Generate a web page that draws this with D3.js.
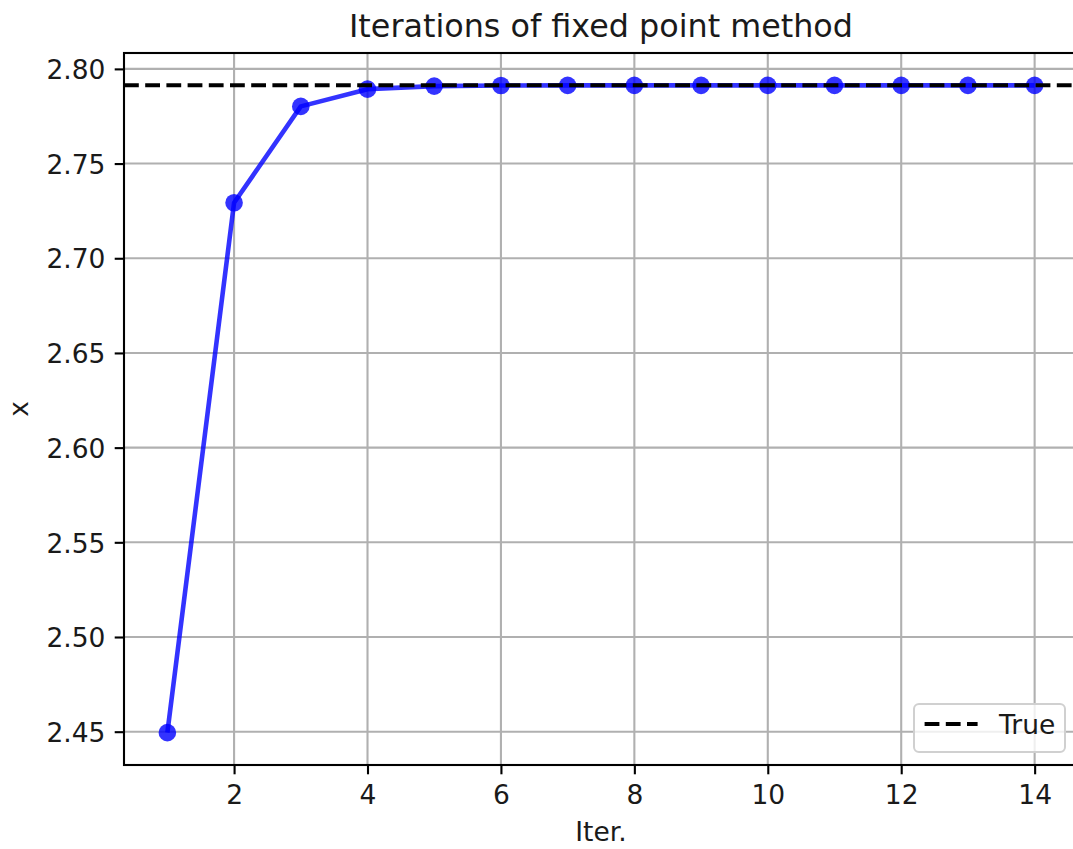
<!DOCTYPE html>
<html>
<head>
<meta charset="utf-8">
<script src="https://cdn.jsdelivr.net/npm/d3@7"></script>
<style>
  body { margin: 0; background: #fff; }
  svg { display: block; font-family: "DejaVu Sans", sans-serif; }
</style>
</head>
<body>
<div id="chart"></div>
<script>
// values
var iterations = [1, 2, 3, 4, 5, 6, 7, 8, 9, 10, 11, 12, 13, 14]
var xValues = [2.4495, 2.7293, 2.7802, 2.7893, 2.7909, 2.7912, 2.7913, 2.7913, 2.7913, 2.7913, 2.7913, 2.7913, 2.7913, 2.7913]
var trueValue = 2.7913
var xTicks = [2, 4, 6, 8, 10, 12, 14]
var yTicks = [2.45, 2.50, 2.55, 2.60, 2.65, 2.70, 2.75, 2.80]
var titleText = "Iterations of fixed point method"
var xLabel = "Iter."
var yLabel = "x"
var legendLabel = "True"

var svgSize = { width: 1073, height: 849 }
var margin = { top: 53, left: 124 }
var chartSize = { width: 954, height: 712 }
var fontSize = 26.5

var svg = d3.select("#chart").append("svg")
    .attr("width", svgSize.width)
    .attr("height", svgSize.height)

var frame = svg.append("g")
    .attr("transform", `translate(${margin.left}, ${margin.top})`)

// matplotlib style 5% padding on both axes
var xPad = (d3.max(iterations) - d3.min(iterations)) * 0.05
var yPad = (d3.max(xValues) - d3.min(xValues)) * 0.05

var xScale = d3.scaleLinear()
    .domain([d3.min(iterations) - xPad, d3.max(iterations) + xPad])
    .range([0, chartSize.width])
var yScale = d3.scaleLinear()
    .domain([d3.min(xValues) - yPad, d3.max(xValues) + yPad])
    .range([chartSize.height, 0])

// grid
var grid = frame.append("g")
grid.selectAll("line.gx").data(xTicks).enter().append("line")
    .attr("x1", d => xScale(d)).attr("x2", d => xScale(d))
    .attr("y1", 0).attr("y2", chartSize.height)
    .attr("stroke", "#b0b0b0").attr("stroke-width", 2.1)
grid.selectAll("line.gy").data(yTicks).enter().append("line")
    .attr("y1", d => yScale(d)).attr("y2", d => yScale(d))
    .attr("x1", 0).attr("x2", chartSize.width)
    .attr("stroke", "#b0b0b0").attr("stroke-width", 2.1)

// axes
var bottomAxis = d3.axisBottom(xScale).tickValues(xTicks).tickSize(9.3).tickPadding(9.3)
    .tickFormat(d3.format("d"))
var leftAxis = d3.axisLeft(yScale).tickValues(yTicks).tickSize(9.3).tickPadding(9.3)
    .tickFormat(d3.format(".2f"))

var gx = frame.append("g").attr("transform", `translate(0, ${chartSize.height})`).call(bottomAxis)
var gy = frame.append("g").call(leftAxis)
;[gx, gy].forEach(g => {
    g.select(".domain").remove()
    g.selectAll(".tick line").attr("stroke", "#000").attr("stroke-width", 2.1)
    g.selectAll(".tick text").attr("fill", "#1a1a1a").attr("font-size", fontSize)
        .attr("font-family", "DejaVu Sans")
})
gx.selectAll(".tick text").attr("dy", null).attr("y", 39)
gy.selectAll(".tick text").attr("dy", null).attr("y", 9.7)

// data line and markers
var line = d3.line()
    .x((d, i) => xScale(iterations[i]))
    .y(d => yScale(d))

var series = frame.append("g")
series.append("path")
    .datum(xValues)
    .attr("d", line)
    .attr("fill", "none")
    .attr("stroke", "blue")
    .attr("stroke-opacity", 0.8)
    .attr("stroke-width", 4.6)
    .attr("stroke-linejoin", "round")
series.selectAll("circle").data(xValues).enter().append("circle")
    .attr("cx", (d, i) => xScale(iterations[i]))
    .attr("cy", d => yScale(d))
    .attr("r", 8.8)
    .attr("fill", "blue")
    .attr("fill-opacity", 0.8)

// true value dashed line
frame.append("line")
    .attr("x1", 0).attr("x2", chartSize.width)
    .attr("y1", yScale(trueValue)).attr("y2", yScale(trueValue))
    .attr("stroke", "#000").attr("stroke-width", 4)
    .attr("stroke-dasharray", "14.8 6.4")

// spines
frame.append("rect")
    .attr("x", 0).attr("y", 0)
    .attr("width", chartSize.width).attr("height", chartSize.height)
    .attr("fill", "none").attr("stroke", "#000").attr("stroke-width", 2.1)

// legend (lower right)
var lgW = 151, lgH = 48
var legend = frame.append("g")
    .attr("transform", `translate(${chartSize.width - 13 - lgW}, ${chartSize.height - 13 - lgH})`)
legend.append("rect")
    .attr("width", lgW).attr("height", lgH)
    .attr("rx", 5).attr("ry", 5)
    .attr("fill", "#fff").attr("fill-opacity", 0.8)
    .attr("stroke", "#d0d0d0").attr("stroke-width", 2)
legend.append("line")
    .attr("x1", 10.6).attr("x2", 63.6)
    .attr("y1", 20).attr("y2", 20)
    .attr("stroke", "#000").attr("stroke-width", 4)
    .attr("stroke-dasharray", "14.8 6.4")
legend.append("text")
    .attr("x", 85).attr("y", 30)
    .attr("font-size", fontSize).attr("fill", "#1a1a1a")
    .text(legendLabel)

// title and labels
svg.append("text")
    .attr("x", margin.left + chartSize.width / 2).attr("y", 37)
    .attr("text-anchor", "middle")
    .attr("font-size", 31.8).attr("fill", "#1a1a1a")
    .text(titleText)
svg.append("text")
    .attr("x", margin.left + chartSize.width / 2).attr("y", 841)
    .attr("text-anchor", "middle")
    .attr("font-size", fontSize).attr("fill", "#1a1a1a")
    .text(xLabel)
svg.append("text")
    .attr("transform", `translate(28, ${margin.top + chartSize.height / 2}) rotate(-90)`)
    .attr("text-anchor", "middle")
    .attr("font-size", fontSize).attr("fill", "#1a1a1a")
    .text(yLabel)
</script>
</body>
</html>
